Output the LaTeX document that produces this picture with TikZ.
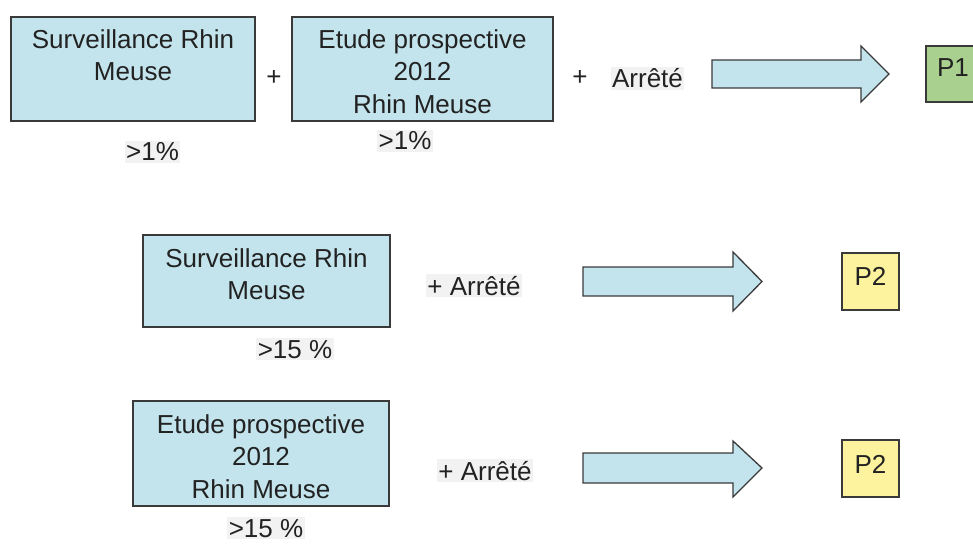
\documentclass[tikz,border=0pt]{standalone}
\usepackage{fontspec}
\setmainfont{Liberation Sans}
\definecolor{boxblue}{HTML}{C3E4EC}
\definecolor{boxgreen}{HTML}{A9D08E}
\definecolor{boxyellow}{HTML}{FDF39E}
\definecolor{edge}{HTML}{3A3A3A}
\definecolor{ink}{HTML}{222222}
\definecolor{tint}{HTML}{F2F2F2}
\begin{document}
\begin{tikzpicture}[x=1pt,y=-1pt,
  srcbox/.style={draw=edge,line width=1.3pt,fill=boxblue},
  resbox/.style={draw=edge,line width=1.3pt},
  boxtext/.style={inner sep=0pt,anchor=north,align=center,text=ink,
    font=\fontsize{26}{32.5}\selectfont},
  label/.style={inner sep=1.5pt,anchor=base,text=ink,fill=tint,
    font=\fontsize{26}{32}\selectfont},
  plain/.style={inner sep=0pt,text=ink,font=\fontsize{26}{32}\selectfont},
  bigarrow/.style={draw=edge,line width=1.3pt,fill=boxblue,line join=miter}]
\useasboundingbox (0,0) rectangle (973,545);
\clip (0,0) rectangle (973,545);

% ---- row 1 ----
\draw[srcbox] (11,17) rectangle (255,121);
\node[boxtext] (surv1t) at (133,29.4) {Surveillance Rhin\\Meuse};
\node[plain] (plus1) at (274,78) {+};
\draw[srcbox] (292,17) rectangle (553,121);
\node[boxtext] (etude1t) at (422.5,29.4) {Etude prospective\\2012\\Rhin Meuse};
\node[label] (pct1a) at (152.5,161) {>1\%};
\node[label] (pct1b) at (405,150) {>1\%};
\node[plain] (plus2) at (580,78) {+};
\node[label] (arr1) at (647.5,88) {Arrêté};
\draw[bigarrow] (712,60) -- (861,60) -- (861,46) -- (889,74) -- (861,102)
  -- (861,88) -- (712,88) -- cycle;
\draw[resbox,fill=boxgreen] (926,46) rectangle (990,102);
\node[plain,anchor=base] (p1) at (953,77) {P1};

% ---- row 2 ----
\draw[srcbox] (143,235) rectangle (390,327);
\node[boxtext] (surv2t) at (266.5,248.4) {Surveillance Rhin\\Meuse};
\node[label] (arr2) at (474,295) {+ Arrêté};
\node[label] (pct2) at (295,358) {>15 \%};
\draw[bigarrow] (583,267) -- (733,267) -- (733,252) -- (762,281.5) -- (733,311)
  -- (733,296) -- (583,296) -- cycle;
\draw[resbox,fill=boxyellow] (842,253) rectangle (899,310);
\node[plain,anchor=base] (p2a) at (870.5,285) {P2};

% ---- row 3 ----
\draw[srcbox] (133,401) rectangle (389,506);
\node[boxtext] (etude2t) at (261,414.4) {Etude prospective\\2012\\Rhin Meuse};
\node[label] (arr3) at (485,480) {+ Arrêté};
\node[label] (pct3) at (266,537) {>15 \%};
\draw[bigarrow] (583,453) -- (733,453) -- (733,441) -- (762,468) -- (733,497)
  -- (733,483) -- (583,483) -- cycle;
\draw[resbox,fill=boxyellow] (842,440) rectangle (899,497);
\node[plain,anchor=base] (p2b) at (870.5,473) {P2};
\end{tikzpicture}
\end{document}
